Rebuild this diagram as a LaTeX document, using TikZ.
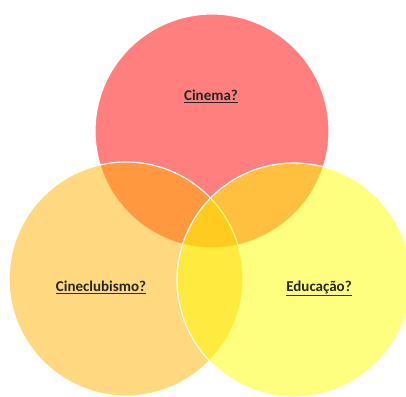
\documentclass[tikz,border=0pt]{standalone}
\usepackage{fontspec}
\setmainfont{Carlito}
\usepackage{tikz}
\usetikzlibrary{positioning}

\definecolor{cinemared}{RGB}{255,0,0}
\definecolor{clubeorange}{RGB}{255,178,0}
\definecolor{educyellow}{RGB}{255,255,0}

\begin{document}
\begin{tikzpicture}[
      x=1pt, y=1pt,
      venn/.style={circle, draw=white, line width=1.2pt, fill opacity=0.5, minimum size=234pt, inner sep=0pt},
      rotulo/.style={font=\fontsize{15}{18}\selectfont\bfseries, text=black!85}
      ]
      
      % Moldura fixa da figura.
      \path[use as bounding box] (0,0) rectangle (406,396);
      \clip (0,0) rectangle (406,396);
      
      \node[venn, fill=cinemared] (cinema) at (212,265) {};
      \node[venn, fill=clubeorange] (clube) at (126,117) {};
      \node[venn, fill=educyellow] (educ) at (294,116) {};
      
      \node[rotulo] (t-cinema) at (211,300) {\underline{Cinema?}};
      \node[rotulo] (t-clube) at (101,109) {\underline{Cineclubismo?}};
      \node[rotulo] (t-educ) at (319,108) {\underline{Educação?}};
    \end{tikzpicture}
\end{document}
